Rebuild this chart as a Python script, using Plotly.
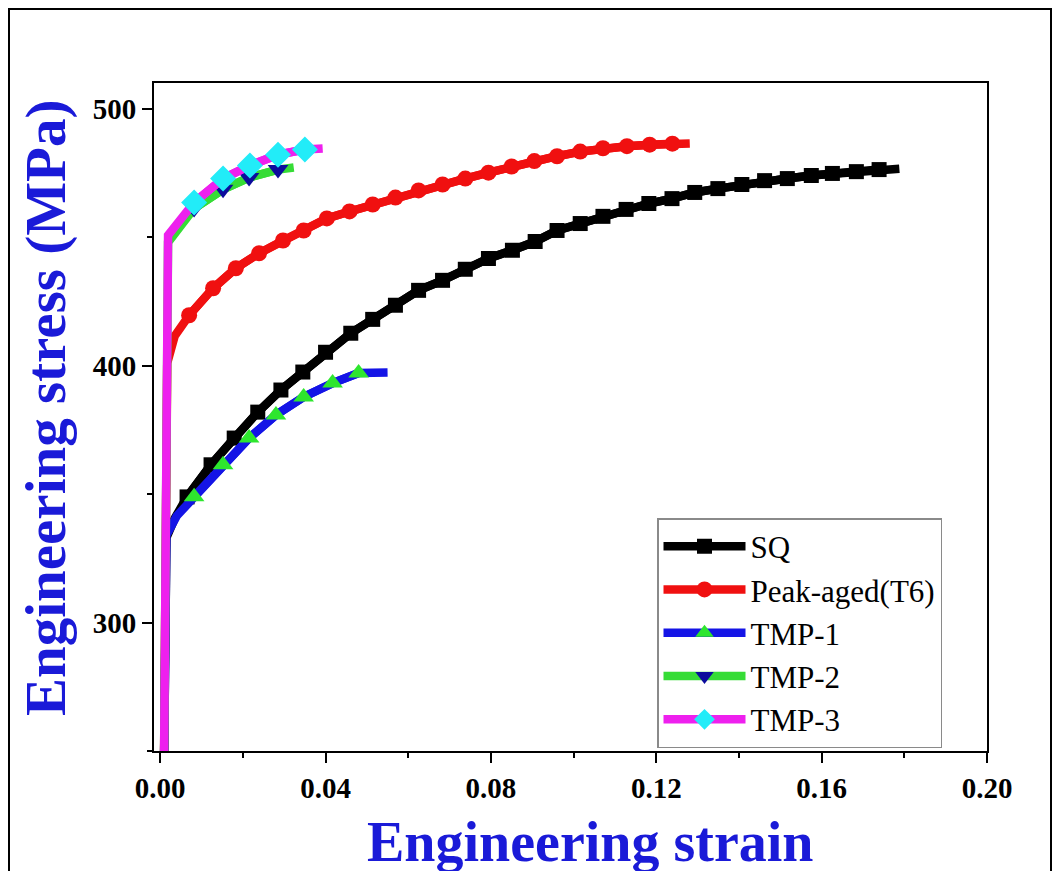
import plotly.graph_objects as go

# ---------------- data ----------------
sq_strain = [0.0009, 0.0015, 0.0035, 0.0065, 0.0123, 0.0179, 0.0236, 0.0292, 0.0345, 0.0400, 0.0461,
             0.0514, 0.0569, 0.0625, 0.0683, 0.0738, 0.0794, 0.0852, 0.0907, 0.0960, 0.1016,
             0.1071, 0.1127, 0.1182, 0.1238, 0.1293, 0.1349, 0.1407, 0.1462, 0.1517, 0.1575,
             0.1626, 0.1684, 0.1739, 0.1788]
sq_stress = [240, 333, 340.5, 348.9, 361.4, 371.8, 381.9, 390.5, 397.5, 405.2, 412.6,
             418.0, 423.5, 429.3, 433.2, 437.5, 441.7, 444.9, 448.3, 452.6, 455.3,
             458.1, 460.8, 463.1, 465.0, 467.4, 468.9, 470.5, 472.0, 472.8, 474.0,
             474.8, 475.5, 476.3, 476.6]

t6_strain = [0.0009, 0.0017, 0.0035, 0.0070, 0.0128, 0.0183, 0.0239, 0.0297, 0.0347, 0.0403, 0.0458,
             0.0514, 0.0569, 0.0625, 0.0683, 0.0738, 0.0794, 0.0850, 0.0905, 0.0960, 0.1016,
             0.1071, 0.1129, 0.1184, 0.1239, 0.1281]
t6_stress = [240, 401.0, 411.5, 419.6, 430.1, 437.9, 443.7, 448.7, 452.6, 457.3, 460.0,
             462.7, 465.4, 468.2, 470.5, 472.8, 475.1, 477.5, 479.6, 481.5, 483.3,
             484.6, 485.4, 486.0, 486.4, 486.5]

tmp1_strain = [0.0009, 0.0015, 0.0040, 0.0082, 0.0152, 0.0215, 0.0280, 0.0347, 0.0417, 0.0480, 0.0550]
tmp1_stress = [240, 334, 341.5, 349.0, 361.4, 371.8, 380.8, 387.8, 393.2, 397.1, 397.3]

tmp2_strain = [0.0009, 0.0019, 0.0082, 0.0152, 0.0215, 0.0285, 0.0323]
tmp2_stress = [240, 448.0, 461.2, 468.6, 473.2, 476.3, 477.1]

tmp3_strain = [0.0009, 0.0019, 0.0082, 0.0152, 0.0217, 0.0285, 0.0350, 0.0393]
tmp3_stress = [240, 450.7, 463.5, 472.8, 477.9, 482.1, 484.1, 484.5]

series_names = ["SQ", "Peak-aged(T6)", "TMP-1", "TMP-2", "TMP-3"]
x_ticks = [0.00, 0.04, 0.08, 0.12, 0.16, 0.20]
y_ticks = [300, 400, 500]

# ---------------- styling ----------------
# 'first' = index of the first point that carries a marker (elastic part and
# the end of each curve have no marker)
styles = [
    dict(line="#000000", marker="#000000", symbol="square", msize=15, first=3),
    dict(line="#f01010", marker="#f01010", symbol="circle", msize=16, first=3),
    dict(line="#1414e6", marker="#2ee62e", symbol="triangle-up", msize=18, first=3),
    dict(line="#36dc36", marker="#0c0c9c", symbol="triangle-down", msize=18, first=2),
    dict(line="#ee20ee", marker="#22ecf8", symbol="diamond", msize=20, first=2),
]
data = [(sq_strain, sq_stress), (t6_strain, t6_stress), (tmp1_strain, tmp1_stress),
        (tmp2_strain, tmp2_stress), (tmp3_strain, tmp3_stress)]

SERIF = "Liberation Serif, Times New Roman, serif"
BLUE = "#1a1ad8"
LW = 8.5

fig = go.Figure()
for name, (xs, ys), st in zip(series_names, data, styles):
    k = st["first"]
    # full curve (line only)
    fig.add_trace(go.Scatter(
        x=xs, y=ys, mode="lines", showlegend=False, hoverinfo="skip",
        legendgroup=name, line=dict(color=st["line"], width=LW),
    ))
    # marked part of the curve (carries the legend entry)
    fig.add_trace(go.Scatter(
        x=xs[k:-1], y=ys[k:-1], name=name, mode="lines+markers", legendgroup=name,
        line=dict(color=st["line"], width=LW),
        marker=dict(color=st["marker"], symbol=st["symbol"], size=st["msize"],
                    opacity=1, line=dict(width=0)),
    ))

# page body has an 8 px margin: figure coords = page coords - 8
OFF = 8
W, H = 1060 - OFF, 871 - OFF
L, R, T, B = 154 - OFF, 987 - OFF, 83 - OFF, 751 - OFF
pw, ph = R - L, B - T

def px_x(page_px):
    return (page_px - OFF - L) / pw

def px_y(page_py):
    return (B - (page_py - OFF)) / ph

fig.update_layout(
    width=W, height=H,
    margin=dict(l=L, r=W - R, t=T, b=H - B),
    paper_bgcolor="white", plot_bgcolor="white",
    font=dict(family=SERIF, color="black"),
    showlegend=True,
    legend=dict(
        x=px_x(657), y=px_y(518), xanchor="left", yanchor="top",
        bgcolor="white", bordercolor="#8a8a8a", borderwidth=1.5,
        font=dict(family=SERIF, size=31, color="black"),
        itemwidth=82, tracegroupgap=0,
    ),
    xaxis=dict(
        range=[-0.0015, 0.2], tickvals=x_ticks,
        ticktext=[f"{v:.2f}" for v in x_ticks],
        ticks="outside", ticklen=10, tickwidth=2, tickcolor="black",
        showline=True, linewidth=2, linecolor="black", mirror=True,
        showgrid=False, zeroline=False,
        tickfont=dict(family=SERIF, size=29, color="black", weight="bold"),
        minor=dict(tickvals=[0.02, 0.06, 0.10, 0.14, 0.18], ticks="outside",
                   ticklen=5, tickwidth=2, tickcolor="black", showgrid=False),
    ),
    yaxis=dict(
        range=[250, 510], tickvals=y_ticks,
        ticks="outside", ticklen=10, tickwidth=2, tickcolor="black",
        showline=True, linewidth=2, linecolor="black", mirror=True,
        showgrid=False, zeroline=False,
        tickfont=dict(family=SERIF, size=29, color="black", weight="bold"),
        minor=dict(tickvals=[250, 350, 450], ticks="outside",
                   ticklen=5, tickwidth=2, tickcolor="black", showgrid=False),
    ),
    annotations=[
        dict(text="Engineering strain", xref="paper", yref="paper",
             x=px_x(590), y=px_y(842), xanchor="center", yanchor="middle",
             showarrow=False, font=dict(family=SERIF, size=56, color=BLUE, weight="bold")),
        dict(text="Engineering stress (MPa)", xref="paper", yref="paper",
             x=px_x(46), y=px_y(408), xanchor="center", yanchor="middle",
             textangle=-90, showarrow=False,
             font=dict(family=SERIF, size=57, color=BLUE, weight="bold")),
    ],
    shapes=[
        dict(type="rect", xref="paper", yref="paper",
             x0=px_x(9), x1=px_x(1051), y0=px_y(880), y1=px_y(9),
             line=dict(color="black", width=2), fillcolor="rgba(0,0,0,0)", layer="below"),
    ],
)

fig.write_html("out.html")
